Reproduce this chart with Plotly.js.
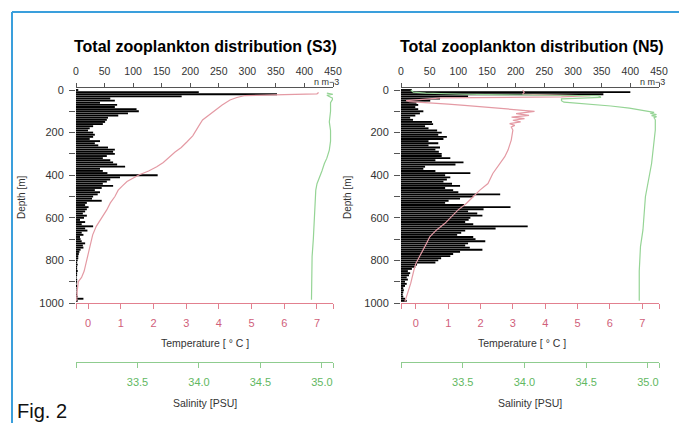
<!DOCTYPE html>
<html><head><meta charset="utf-8">
<script src="https://cdn.plot.ly/plotly-3.0.1.min.js"></script>
<style>html,body{margin:0;padding:0;background:#fff;}#chart{width:679px;height:423px;}</style>
</head><body><div id="chart"></div>
<script>
// depth bins (m)
const depthBins = [0,10,20,30,40,50,60,70,80,90,100,110,120,130,140,150,160,170,180,190,
200,210,220,230,240,250,260,270,280,290,300,310,320,330,340,350,360,370,380,390,
400,410,420,430,440,450,460,470,480,490,500,510,520,530,540,550,560,570,580,590,
600,610,620,630,640,650,660,670,680,690,700,710,720,730,740,750,760,770,780,790,
800,810,820,830,840,850,860,870,880,890,900,910,920,930,940,950,960,970,980,990];

// Total zooplankton abundance (n m-3), station S3
const s3Abund = [4,215,352,185,60,68,42,72,68,106,110,91,74,56,54,51,47,30,24,21,
30,33,30,24,42,33,39,56,68,65,68,54,47,60,65,72,86,42,47,55,
143,77,60,54,47,65,45,33,42,38,30,28,45,19,16,22,19,16,12,19,
14,7,16,10,30,16,20,10,13,7,8,10,16,12,13,8,6,5,4,4,
3,2,3,2,2,3,2,2,1,2,2,1,2,1,1,1,2,3,13,3];

// Total zooplankton abundance (n m-3), station N5
const n5Abund = [19,400,353,117,68,51,27,30,25,30,39,33,25,16,21,54,56,42,48,63,
71,65,80,74,48,65,48,68,60,66,71,71,86,60,109,95,42,39,60,121,
77,86,80,74,89,103,77,91,100,173,126,103,83,77,110,191,144,117,133,142,
121,118,112,126,221,165,112,105,98,126,130,147,117,112,120,142,103,91,86,70,
65,60,28,25,19,12,16,14,10,12,7,10,7,4,5,4,3,4,7,10];

// Temperature profiles
const s3TempDepth = [12,18,22,26,35,47,70,94,120,141,165,190,215,244,270,291,314,340,360,380,399,415,430,450,470,500,530,563,600,640,680,720,760,805,850,880,900,940,990];
const s3Temp = [7.05,7.0,6.0,4.8,4.55,4.34,4.1,3.9,3.7,3.5,3.4,3.3,3.2,3.02,2.85,2.66,2.5,2.3,2.1,1.85,1.55,1.35,1.19,1.05,0.92,0.82,0.68,0.57,0.42,0.25,0.14,0.08,0.02,-0.04,-0.12,-0.2,-0.3,-0.33,-0.35];
const n5TempDepth = [0,10,20,27,32,37,45,50,55,60,66,72,80,88,95,100,111,119,127,134,142,150,158,166,174,181,188,235,282,313,345,392,439,470,501,533,564,595,626,657,689,720,751,782,814,845,908,970,993];
const n5Temp = [3.3,3.35,3.3,5.4,4.5,0.8,0.1,-0.3,-0.2,0.43,1.0,1.5,2.2,2.9,3.45,3.67,3.1,3.5,2.96,3.36,3.0,3.24,2.9,3.06,2.95,2.97,3.0,2.95,2.85,2.75,2.6,2.38,2.23,1.98,1.77,1.56,1.3,1.1,0.9,0.64,0.43,0.33,0.22,0.12,0.0,-0.06,-0.16,-0.29,-0.34];

// Salinity profiles
const s3SalDepth = [15,20,25,30,40,60,100,150,190,240,282,320,345,380,407,440,470,550,626,700,782,860,939,985];
const s3Sal = [35.04,35.09,35.04,35.06,35.09,35.07,35.07,35.06,35.07,35.07,35.06,35.04,35.02,35.0,34.98,34.96,34.95,34.945,34.94,34.93,34.92,34.92,34.915,34.915];
const n5SalDepth = [0,10,15,20,27,35,42,50,57,65,75,85,95,100,105,110,115,120,125,130,140,188,345,501,657,735,850,970,990];
const n5Sal = [33.08,33.1,33.2,33.5,34.6,34.62,34.3,34.3,34.32,34.5,34.7,34.85,34.97,35.0,35.05,35.02,35.07,35.03,35.07,35.05,35.06,35.06,35.03,34.98,34.96,34.94,34.93,34.93,34.93];

// tick labels
const abundTicks = [0,50,100,150,200,250,300,350,400,450];
const depthTicks = [0,100,200,300,400,500,600,700,800,900,1000];
const depthLabels = ['0','','200','','400','','600','','800','','1000'];
const tempTicks = [0,1,2,3,4,5,6,7];
const salTicks = [33.5,34.0,34.5,35.0];
const salLabels = ['33.5','34.0','34.5','35.0'];
const panelTitles = ['Total zooplankton distribution (S3)','Total zooplankton distribution (N5)'];

const W = 679, H = 423;
const px = v => v / W, py = v => 1 - v / H;
const FONT = 'Liberation Sans, Arial, sans-serif';
const TEMP_LINE = '#e49aa4', TEMP_AX = '#e2808f', TEMP_LAB = '#d0607a';
const SAL_LINE = '#95d495', SAL_AX = '#8fcc8f', SAL_LAB = '#62b862';
const AX = '#555', LAB = '#333';

const panels = [
  {abund: s3Abund, td: s3TempDepth, t: s3Temp, sd: s3SalDepth, s: s3Sal, x0: 76, x1: 333, trange: [-0.37, 7.49]},
  {abund: n5Abund, td: n5TempDepth, t: n5Temp, sd: n5SalDepth, s: n5Sal, x0: 401, x1: 659, trange: [-0.46, 7.52]}
];

const data = [];
const layout = {
  width: W, height: H, margin: {l: 0, r: 0, t: 0, b: 0},
  paper_bgcolor: '#fff', plot_bgcolor: '#fff',
  showlegend: false, bargap: 0.12,
  font: {family: FONT, size: 11, color: LAB},
  annotations: [], shapes: []
};

const yDom = [py(303), py(88)];
const salPos = py(362);

panels.forEach((p, i) => {
  const xa = 3 * i + 1, xb = xa + 1, xc = xa + 2;
  const xk = n => 'x' + (n === 1 ? '' : n);
  const ya = i === 0 ? 'y' : 'y2';
  data.push({type: 'bar', orientation: 'h', x: p.abund, y: depthBins, xaxis: xk(xa), yaxis: ya,
    marker: {color: '#000', line: {width: 0}}, hoverinfo: 'skip'});
  data.push({type: 'scatter', mode: 'lines', x: p.t, y: p.td, xaxis: xk(xb), yaxis: ya,
    line: {color: TEMP_LINE, width: 1.2}, hoverinfo: 'skip'});
  data.push({type: 'scatter', mode: 'lines', x: p.s, y: p.sd, xaxis: xk(xc), yaxis: ya,
    line: {color: SAL_LINE, width: 1.2}, hoverinfo: 'skip'});

  const dom = [px(p.x0), px(p.x1)];
  layout['xaxis' + (xa === 1 ? '' : xa)] = {
    domain: dom, anchor: ya, side: 'top', range: [0, 450],
    tickmode: 'array', tickvals: abundTicks, ticks: 'outside', ticklen: 4, tickcolor: AX,
    showline: true, linecolor: AX, linewidth: 1, showgrid: false, zeroline: false,
    tickfont: {size: 10.5, color: LAB, family: FONT}, ticklabelstandoff: 4, fixedrange: true
  };
  layout['xaxis' + xb] = {
    overlaying: xk(xa), anchor: ya, side: 'bottom', range: p.trange,
    tickmode: 'array', tickvals: [p.trange[0]].concat(tempTicks, [p.trange[1]]),
    ticktext: [''].concat(tempTicks.map(String), ['']),
    ticks: 'outside', ticklen: 5, tickcolor: TEMP_AX,
    showline: true, linecolor: TEMP_AX, linewidth: 1, showgrid: false, zeroline: false,
    tickfont: {size: 11, color: TEMP_LAB, family: FONT}, ticklabelstandoff: 5, fixedrange: true
  };
  layout['xaxis' + xc] = {
    overlaying: xk(xa), anchor: 'free', position: salPos, side: 'bottom', range: [33.0, 35.09],
    tickmode: 'array', tickvals: [33.0].concat(salTicks, [35.09]),
    ticktext: [''].concat(salLabels, ['']),
    ticks: 'outside', ticklen: 5, tickcolor: SAL_AX,
    showline: true, linecolor: SAL_AX, linewidth: 1, showgrid: false, zeroline: false,
    tickfont: {size: 11, color: SAL_LAB, family: FONT}, ticklabelstandoff: 5, fixedrange: true
  };
  layout[i === 0 ? 'yaxis' : 'yaxis2'] = {
    domain: yDom, anchor: xk(xa), range: [1000, -9.4],
    tickmode: 'array', tickvals: depthTicks, ticktext: depthLabels,
    ticks: 'outside', ticklen: 6, tickcolor: AX, showline: false, showgrid: false, zeroline: false,
    tickfont: {size: 11, color: LAB, family: FONT}, ticklabelstandoff: 3, fixedrange: true
  };

  layout.annotations.push(
    {text: '<b>' + panelTitles[i] + '</b>', xref: 'paper', yref: 'paper', x: px(i === 0 ? 205 : 532), y: py(46),
     showarrow: false, xanchor: 'center', yanchor: 'middle', font: {size: 16, color: '#000', family: FONT}},
    {text: 'n m−3', xref: 'paper', yref: 'paper', x: px(p.x1 - 7), y: py(81.5),
     showarrow: false, xanchor: 'center', yanchor: 'middle', font: {size: 9, color: LAB, family: FONT}},
    {text: 'Depth [m]', xref: 'paper', yref: 'paper', x: px(i === 0 ? 21 : 347), y: py(197), textangle: -90,
     showarrow: false, xanchor: 'center', yanchor: 'middle', font: {size: 10, color: LAB, family: FONT}},
    {text: 'Temperature [ ° C ]', xref: 'paper', yref: 'paper', x: px(i === 0 ? 205 : 522), y: py(343),
     showarrow: false, xanchor: 'center', yanchor: 'middle', font: {size: 10.5, color: LAB, family: FONT}},
    {text: 'Salinity [PSU]', xref: 'paper', yref: 'paper', x: px(i === 0 ? 205 : 530), y: py(403),
     showarrow: false, xanchor: 'center', yanchor: 'middle', font: {size: 10.5, color: LAB, family: FONT}}
  );
});

layout.annotations.push({text: 'Fig. 2', xref: 'paper', yref: 'paper', x: px(15), y: py(411),
  showarrow: false, xanchor: 'left', yanchor: 'middle', font: {size: 20, color: '#111', family: FONT}});

layout.shapes.push(
  {type: 'line', xref: 'paper', yref: 'paper', x0: px(12), x1: 1.01, y0: py(12), y1: py(12), line: {color: '#3a9fdc', width: 2}},
  {type: 'line', xref: 'paper', yref: 'paper', x0: px(12), x1: px(12), y0: py(12), y1: -0.05, line: {color: '#3a9fdc', width: 2}}
);

Plotly.newPlot('chart', data, layout, {staticPlot: true, displayModeBar: false});
</script></body></html>
